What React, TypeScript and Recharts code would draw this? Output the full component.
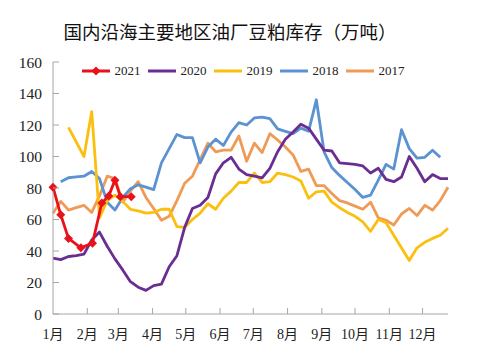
import { LineChart, Line, XAxis, YAxis } from 'recharts'

const monthLabels = ['1月', '2月', '3月', '4月', '5月', '6月', '7月', '8月', '9月', '10月', '11月', '12月']
const monthStartDays = [0, 31, 59, 90, 120, 151, 181, 212, 243, 273, 304, 334]
const stockTicks = [0, 20, 40, 60, 80, 100, 120, 140, 160]

// weekly readings, index = week of the year (0 = first week of Jan), null = no reading
const stock2020 = [
  35.5, 34.5, 36.5, 37, 38, 47, 52, 43, 35, 28, 20.5, 17, 15, 18, 19, 30, 37, 55, 67, 69, 74, 89, 96, 99.5, 92, 88.5,
  87.5, 86.5, 92.5, 103, 111, 115.5, 120.5, 118, 111, 104, 103.5, 96, 95.5, 95, 94, 89.5, 92.5, 85.5, 84, 87, 100, 92.5, 84, 88.5, 86, 86,
]
const stock2019 = [
  null, null, 118.5, null, 100, 128.5, 61, 72, 75.5, 71.5, 66.5, 65.5, 64, 64.5, 66.5, 66.5, 55.5, 55, 60, 64, 70, 66.5, 73.5, 78, 83.5, 83.5,
  89.5, 83.5, 84, 89.5, 88.5, 87, 84.5, 73.5, 77.5, 78, 71, 67.5, 64.5, 62, 58.5, 52.5, 60, 58, null, null, 34, 42, 45.5, 48, 50, 54.5,
]
const stock2018 = [
  null, 84, 86.5, 87, 87.5, 90.5, 86, 71, 66, 74, 79.5, 82, 80.5, 79, 96, 105, 114, 112, 112, 96, 106, 111, 107, 115.5, 121.5, 120,
  124.5, 125, 124, 117.5, 116, 114.5, 118, 116, 136, 103, 93, 88, 83.5, 79, 74, 75.5, 85, 95, 92, 117, 105, 99, 99.5, 104, 99.5, null,
]
const stock2017 = [
  64, 71.5, 66, 67.5, 69, 64.5, 75, 87.5, 86, 71, 78, 84, 74, 67, 59.5, 62, 72, 83, 87.5, 98, 108.5, 103, 104, 104, 113, 97,
  108.5, 102.5, 114.5, 110.5, 106, 101, 90.5, 92, 81.5, 81.5, 76.5, 72, 70.5, 68.5, 66.5, 71, 61, 59.5, 56.5, 63.5, 67, 62.5, 69, 66, 72, 80.5,
]
// 2021 readings fall on uneven weeks
const weeks2021 = [0, 1, 2, 3.6, 5.1, 6.3, 7.2, 8.0, 8.7, 10.1]
const stock2021 = [80.5, 63, 48, 42, 45, 70.5, 75, 85, 74.5, 74.5]

const monthTicks = monthStartDays.map((d) => d / 7)
const toPoints = (vals: (number | null)[], weeks?: number[]) =>
  vals.map((v, i) => ({ week: weeks ? weeks[i] : i, v }))

const series = [
  { name: '2017', color: '#F09B55', data: toPoints(stock2017) },
  { name: '2018', color: '#5B92D2', data: toPoints(stock2018) },
  { name: '2019', color: '#FBBF10', data: toPoints(stock2019) },
  { name: '2020', color: '#6A2D91', data: toPoints(stock2020) },
  { name: '2021', color: '#E8121B', data: toPoints(stock2021, weeks2021), marker: true },
]
const legendOrder = ['2021', '2020', '2019', '2018', '2017']

const AXIS = '#A6A6A6'
const FONT = "'Liberation Serif', 'Noto Sans CJK SC', serif"

function MonthTick(props: any) {
  const { x, y, payload } = props
  const i = monthTicks.indexOf(payload.value)
  return (
    <g>
      {i > 0 && <line x1={x} y1={y} x2={x} y2={y - 6} stroke={AXIS} />}
      <text x={x} y={y + 24.5} textAnchor="middle" fontSize={14} fontFamily={FONT} fill="#222">
        {monthLabels[i]}
      </text>
    </g>
  )
}

function StockTick(props: any) {
  const { x, y, payload } = props
  return (
    <g>
      <line x1={x} y1={y} x2={x + 6} y2={y} stroke={AXIS} />
      <text x={x - 11} y={y + 5.5} textAnchor="end" fontSize={15.5} fontFamily={FONT} fill="#222">
        {payload.value}
      </text>
    </g>
  )
}

function Diamond(props: any) {
  const { cx, cy, stroke } = props
  if (cx == null || cy == null) return null
  return <polygon points={`${cx},${cy - 4.5} ${cx + 4.5},${cy} ${cx},${cy + 4.5} ${cx - 4.5},${cy}`} fill={stroke} />
}

function LegendRow() {
  return (
    <div style={{ position: 'absolute', top: 64, left: 0, width: 486, display: 'flex', justifyContent: 'center', gap: 7 }}>
      {legendOrder.map((name) => {
        const s = series.find((d) => d.name === name)!
        return (
          <div key={name} style={{ display: 'flex', alignItems: 'center', gap: 5, height: 14 }}>
            <svg width={28} height={10}>
              <line x1={0} y1={5} x2={28} y2={5} stroke={s.color} strokeWidth={3} />
              {s.marker && <polygon points="14,0.5 18.5,5 14,9.5 9.5,5" fill={s.color} />}
            </svg>
            <span style={{ fontFamily: FONT, fontSize: 13, color: '#222', lineHeight: '14px' }}>{name}</span>
          </div>
        )
      })}
    </div>
  )
}

export default function App() {
  return (
    <div style={{ position: 'fixed', left: 0, top: 0, width: 486, height: 352, background: '#fff' }}>
      <div
        style={{
          position: 'absolute', top: 20, left: 0, width: 460, textAlign: 'center',
          fontFamily: "'Noto Sans CJK SC', serif", fontSize: 18.5, lineHeight: '22px', color: '#111',
        }}
      >
        国内沿海主要地区油厂豆粕库存（万吨）
      </div>
      <LineChart width={486} height={352} margin={{ top: 62, right: 38, bottom: 0, left: 0 }}>
        <XAxis
          dataKey="week"
          type="number"
          domain={[0, 51]}
          ticks={monthTicks}
          interval={0}
          allowDuplicatedCategory={false}
          height={38}
          tickSize={0}
          tickMargin={0}
          tickLine={false}
          axisLine={{ stroke: AXIS }}
          tick={<MonthTick />}
        />
        <YAxis
          domain={[0, 160]}
          ticks={stockTicks}
          interval={0}
          width={53}
          tickSize={0}
          tickMargin={0}
          tickLine={false}
          axisLine={{ stroke: AXIS }}
          tick={<StockTick />}
        />
        {series.map((s) => (
          <Line
            key={s.name}
            data={s.data}
            dataKey="v"
            name={s.name}
            type="linear"
            stroke={s.color}
            strokeWidth={2.8}
            strokeLinejoin="round"
            dot={s.marker ? <Diamond /> : false}
            activeDot={false}
            connectNulls={s.name === '2019'}
            isAnimationActive={false}
          />
        ))}
      </LineChart>
      <LegendRow />
    </div>
  )
}
